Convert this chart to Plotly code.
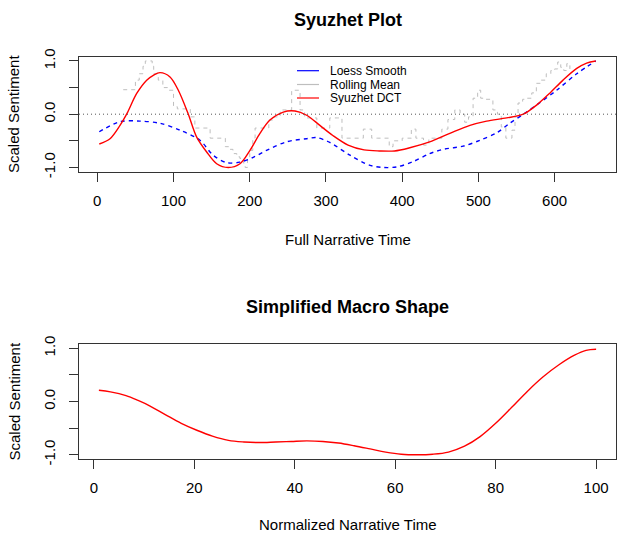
import plotly.graph_objects as go

# ---------------- data ----------------
dct_x = [2.6, 16.7, 29.8, 38.5, 51.7, 64.8, 73.5, 82.3, 95.4, 106.3, 119.4, 130.4, 143.5,
         156.6, 171.9, 187.2, 200.3, 213.4, 226.5, 244, 259.4, 274.7, 292, 309, 329, 350,
         370, 390, 410, 436, 462.5, 488.9, 510.8, 537, 558.8, 577, 594, 611, 629, 642, 654]
dct_y = [-0.56, -0.46, -0.21, 0.0, 0.39, 0.64, 0.73, 0.78, 0.70, 0.45, 0.0, -0.43, -0.71,
         -0.93, -1.0, -0.93, -0.68, -0.36, -0.11, 0.04, 0.06, -0.02, -0.21, -0.40, -0.58,
         -0.67, -0.69, -0.69, -0.63, -0.52, -0.36, -0.21, -0.13, -0.07, 0.0, 0.18, 0.40,
         0.64, 0.86, 0.96, 1.0]

loess_x = [2.6, 29.8, 56, 82, 108.5, 134.7, 152, 169.7, 187, 204.6, 222, 248, 274.7, 287.8,
           305, 331.5, 357.7, 375, 392.8, 414.5, 436, 454, 480, 502, 524, 541, 559, 576,
           602.6, 629, 654]
loess_y = [-0.33, -0.14, -0.13, -0.17, -0.30, -0.49, -0.77, -0.91, -0.90, -0.81, -0.68,
           -0.52, -0.46, -0.44, -0.53, -0.77, -0.96, -1.0, -0.99, -0.89, -0.74, -0.66, -0.60,
           -0.49, -0.35, -0.17, 0.0, 0.17, 0.45, 0.76, 1.0]

roll_x = [34, 40, 50, 55, 60, 63, 72, 74, 80, 86, 92, 100, 105, 115, 122, 128, 135, 148,
          155, 161, 168, 173, 178, 183, 187, 192, 194, 197, 200, 204, 207, 217, 225, 232,
          240, 248, 255, 262, 266, 272, 275, 283, 288, 298, 305, 315, 321, 335, 345, 349,
          355, 360, 368, 383, 388, 400, 412, 418, 428, 435, 452, 460, 469, 476, 482, 487,
          493, 499, 503, 510, 519, 525, 530, 536, 541, 544, 548, 552, 558, 563, 570, 576,
          582, 589, 595, 600, 604, 608, 612, 616, 620]
roll_y = [0.46, 0.46, 0.64, 0.76, 0.9, 1.0, 0.9, 0.76, 0.64, 0.5, 0.45, 0.14, 0.10, 0.10,
          -0.05, -0.26, -0.26, -0.45, -0.45, -0.45, -0.61, -0.66, -0.74, -0.8, -0.83, -0.92,
          -1.0, -0.85, -0.68, -0.45, -0.26, -0.26, -0.11, -0.05, 0.08, 0.08, 0.45, 0.45,
          0.08, -0.07, -0.07, -0.07, -0.26, -0.26, -0.07, -0.07, -0.45, -0.45, -0.45, -0.28,
          -0.28, -0.45, -0.45, -0.61, -0.5, -0.45, -0.28, -0.45, -0.58, -0.45, -0.28, -0.1,
          0.08, 0.0, -0.15, -0.05, 0.3, 0.45, 0.3, 0.28, 0.08, 0.0, -0.24, -0.45, -0.45,
          -0.3, -0.05, 0.21, 0.28, 0.3, 0.4, 0.58, 0.64, 0.76, 0.82, 0.85, 0.98, 0.88, 0.82,
          0.95, 0.85]

macro_x = [1, 3.3, 6.4, 8.8, 11.1, 14.3, 17.4, 20.5, 23.6, 26.8, 29.9, 33, 36.2, 39.3, 42.4,
           45.6, 48.7, 51.8, 55, 58.1, 61.2, 64.4, 67.5, 70.6, 73.8, 76.9, 80, 83.2, 86.3,
           89.4, 92.6, 95.7, 98, 100]
macro_y = [0.21, 0.18, 0.11, 0.02, -0.08, -0.25, -0.41, -0.54, -0.65, -0.73, -0.76, -0.77,
           -0.76, -0.75, -0.74, -0.75, -0.78, -0.83, -0.89, -0.95, -0.99, -1.0, -0.99, -0.95,
           -0.84, -0.66, -0.41, -0.11, 0.19, 0.46, 0.69, 0.87, 0.96, 0.98]

top_xticks = [0, 100, 200, 300, 400, 500, 600]
bot_xticks = [0, 20, 40, 60, 80, 100]
y_ticks = [-1, -0.5, 0, 0.5, 1]
y_ticktext = ["-1.0", "", "0.0", "", "1.0"]

legend_names = ["Loess Smooth", "Rolling Mean", "Syuzhet DCT"]
legend_colors = ["blue", "#BEBEBE", "red"]

# ---------------- figure ----------------
W, H = 617, 534
FONT = "Liberation Sans, Arial, sans-serif"

def px(x):
    return x / W

def py(y):
    return 1 - y / H

fig = go.Figure()

fig.add_trace(go.Scatter(x=roll_x, y=roll_y, mode="lines", line_shape="hv",
                         line=dict(color="#BEBEBE", width=1, dash="4px,4px"),
                         xaxis="x", yaxis="y", showlegend=False))
fig.add_trace(go.Scatter(x=loess_x, y=loess_y, mode="lines", line_shape="spline",
                         line=dict(color="blue", width=1.4, dash="4px,4px", smoothing=0.9),
                         xaxis="x", yaxis="y", showlegend=False))
fig.add_trace(go.Scatter(x=dct_x, y=dct_y, mode="lines", line_shape="spline",
                         line=dict(color="red", width=1.4, smoothing=0.9),
                         xaxis="x", yaxis="y", showlegend=False))
fig.add_trace(go.Scatter(x=macro_x, y=macro_y, mode="lines", line_shape="spline",
                         line=dict(color="red", width=1.4, smoothing=1.0),
                         xaxis="x2", yaxis="y2", showlegend=False))

axis_common = dict(showline=True, mirror=True, linecolor="#333", linewidth=1,
                   showgrid=False, zeroline=False, ticks="outside", ticklen=9,
                   tickcolor="#333", tickwidth=1, automargin=False,
                   tickfont=dict(family=FONT, size=15, color="black"))

fig.update_layout(
    width=W, height=H, autosize=False,
    margin=dict(l=0, r=0, t=0, b=0, pad=0),
    paper_bgcolor="white", plot_bgcolor="white",
    showlegend=False,
    xaxis=dict(domain=[px(79), px(616)], range=[-24, 680.5], anchor="y",
               tickvals=top_xticks, ticklabelstandoff=6, **axis_common),
    yaxis=dict(domain=[py(171.7), py(56.7)], range=[-1.08, 1.08], anchor="x",
               tickvals=y_ticks, ticktext=y_ticktext, tickangle=-90,
               ticklabelstandoff=8, **axis_common),
    xaxis2=dict(domain=[px(79), px(616)], range=[-2.96, 103.96], anchor="y2",
                tickvals=bot_xticks, ticklabelstandoff=6, **axis_common),
    yaxis2=dict(domain=[py(459), py(344)], range=[-1.08, 1.08], anchor="x2",
                tickvals=y_ticks, ticktext=y_ticktext, tickangle=-90,
                ticklabelstandoff=8, **axis_common),
)

# dotted zero line in the top panel
fig.add_shape(type="line", xref="x domain", yref="y", x0=0, x1=1, y0=0, y1=0,
              line=dict(color="#555", width=1, dash="1px,3px"))

# legend (drawn manually to match base-R legend spacing)
leg_rows = [70.7, 84.5, 98.0]
for name, col, ry in zip(legend_names, legend_colors, leg_rows):
    fig.add_shape(type="line", xref="paper", yref="paper",
                  x0=px(297), x1=px(319), y0=py(ry), y1=py(ry),
                  line=dict(color=col, width=1.2))
    fig.add_annotation(text=name, xref="paper", yref="paper", x=px(328), y=py(ry),
                       xanchor="left", yanchor="middle", showarrow=False,
                       font=dict(family=FONT, size=12, color="black"))

def label(text, x, y, size=15, bold=False, angle=0):
    fig.add_annotation(text=f"<b>{text}</b>" if bold else text,
                       xref="paper", yref="paper", x=px(x), y=py(y),
                       xanchor="center", yanchor="middle", showarrow=False,
                       textangle=angle,
                       font=dict(family=FONT, size=size, color="black"))

label("Syuzhet Plot", 347.5, 19.5, size=18, bold=True)
label("Full Narrative Time", 347.5, 239.5)
label("Scaled Sentiment", 14, 114, angle=-90)
label("Simplified Macro Shape", 347.5, 307, size=18, bold=True)
label("Normalized Narrative Time", 347.5, 524.5)
label("Scaled Sentiment", 14, 401.5, angle=-90)

fig.write_html("out.html")
